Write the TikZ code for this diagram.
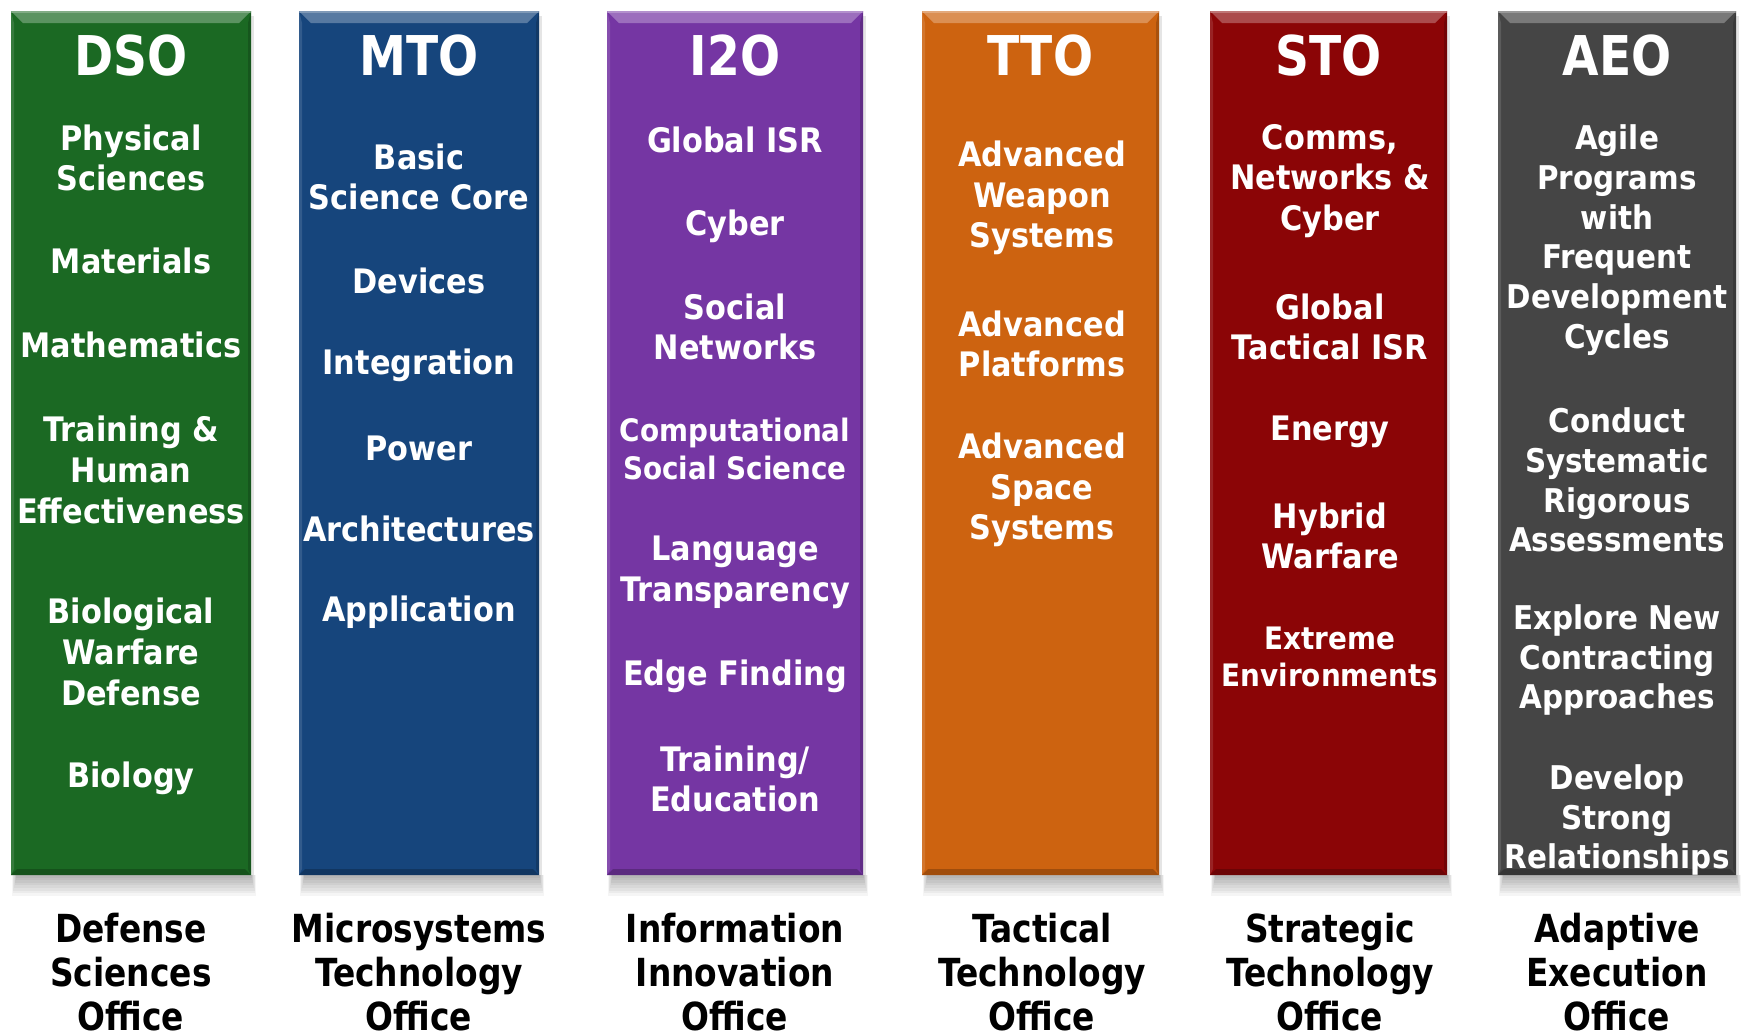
\documentclass[tikz,border=0pt]{standalone}
\usepackage{fontspec}
\setmainfont{DejaVu Sans}
\newfontfamily\headfont[FakeStretch=0.86]{DejaVu Sans}
\newfontfamily\itemfont[FakeStretch=0.90]{DejaVu Sans}
\newfontfamily\capfont[FakeStretch=0.85]{DejaVu Sans}
\usetikzlibrary{positioning,calc}

\definecolor{dsogreen}{RGB}{27,105,35}
\definecolor{mtoblue}{RGB}{22,69,124}
\definecolor{itopurple}{RGB}{117,54,163}
\definecolor{ttoorange}{RGB}{205,99,16}
\definecolor{stored}{RGB}{139,5,6}
\definecolor{aeogray}{RGB}{69,69,69}

\begin{document}
\begin{tikzpicture}[
  x=0.1mm, y=-0.1mm,
  head/.style={text=white, inner sep=0pt, font=\headfont\bfseries\fontsize{15.6}{18}\selectfont},
  item/.style={text=white, align=center, inner sep=0pt, font=\itemfont\bfseries\fontsize{9.6}{11.6}\selectfont},
  small/.style={item, font=\itemfont\bfseries\fontsize{8.8}{10.7}\selectfont},
  aeo/.style={item, font=\itemfont\bfseries\fontsize{9.3}{11.3}\selectfont},
  offname/.style={text=black, align=center, inner sep=0pt, font=\capfont\bfseries\fontsize{11}{12.6}\selectfont},
]
\useasboundingbox[fill=white] (0,0) rectangle (1742,1034);
% #1 node name, #2 left, #3 right, #4 colour, #5 acronym
\newcommand{\officebox}[5]{%
  \foreach \s in {1,...,8}
    \fill[black, opacity=0.04] (#2+6-\s*0.6,875) rectangle (#3+\s*0.6,875+\s*2.6);
  \fill[black, opacity=0.10] (#3,16) rectangle (#3+2.5,875);
  \fill[#4] (#2,11) rectangle (#3,875);
  \fill[#4!72!white] (#2,11) -- (#3,11) -- (#3-12,23) -- (#2+12,23) -- cycle;
  \fill[#4!55!white] (#2,11) rectangle (#3,12.5);
  \fill[#4!88!white] (#2,11) -- (#2+3,23) -- (#2+3,869) -- (#2,875) -- cycle;
  \fill[#4!82!black] (#3,11) -- (#3,875) -- (#3-3,869) -- (#3-3,23) -- cycle;
  \fill[#4!78!black] (#2,875) -- (#3,875) -- (#3-6,869) -- (#2+6,869) -- cycle;
  \node[head] (#1) at ({(#2+#3)/2},56) {#5};}

% ---------------- DSO ----------------
\officebox{dso}{11}{251}{dsogreen}{DSO}
\node[item] (dso-phys) at (131,158) {Physical\\Sciences};
\node[item] (dso-mat)  at (131,261) {Materials};
\node[item] (dso-math) at (131,345) {Mathematics};
\node[item] (dso-hum)  at (131,470) {Training \&\\Human\\Effectiveness};
\node[item] (dso-bwd)  at (131,652) {Biological\\Warfare\\Defense};
\node[item] (dso-bio)  at (131,778) {Biology};
\node[offname] (dso-name) at (131,972) {Defense\\Sciences\\Office};

% ---------------- MTO ----------------
\officebox{mto}{299}{539}{mtoblue}{MTO}
\node[item] (mto-core)  at (419,177) {Basic\\Science Core};
\node[item] (mto-dev)   at (419,281) {Devices};
\node[item] (mto-int)   at (419,365) {Integration};
\node[item] (mto-pow)   at (419,448) {Power};
\node[item] (mto-arch)  at (419,529) {Architectures};
\node[item] (mto-app)   at (419,612) {Application};
\node[offname] (mto-name) at (419,972) {Microsystems\\Technology\\Office};

% ---------------- I2O ----------------
\officebox{ito}{607}{863}{itopurple}{I2O}
\node[item]  (ito-isr)  at (735,140) {Global ISR};
\node[item]  (ito-cyb)  at (735,226) {Cyber};
\node[item]  (ito-soc)  at (735,327) {Social\\Networks};
\node[small] (ito-css)  at (735,449) {Computational\\Social Science};
\node[item]  (ito-lang) at (735,572) {Language\\Transparency};
\node[item]  (ito-edge) at (735,676) {Edge Finding};
\node[item]  (ito-edu)  at (735,779) {Training/\\Education};
\node[offname] (ito-name) at (735,972) {Information\\Innovation\\Office};

% ---------------- TTO ----------------
\officebox{tto}{922}{1159}{ttoorange}{TTO}
\node[item] (tto-weap) at (1042,198) {Advanced\\Weapon\\Systems};
\node[item] (tto-plat) at (1042,344) {Advanced\\Platforms};
\node[item] (tto-spc)  at (1042,490) {Advanced\\Space\\Systems};
\node[offname] (tto-name) at (1042,972) {Tactical\\Technology\\Office};

% ---------------- STO ----------------
\officebox{sto}{1210}{1447}{stored}{STO}
\node[item]  (sto-com) at (1330,181) {Comms,\\Networks \&\\Cyber};
\node[item]  (sto-isr) at (1330,327) {Global\\Tactical ISR};
\node[item]  (sto-eng) at (1330,432) {Energy};
\node[item]  (sto-hyb) at (1330,536) {Hybrid\\Warfare};
\node[small] (sto-env) at (1330,657) {Extreme\\Environments};
\node[offname] (sto-name) at (1330,972) {Strategic\\Technology\\Office};

% ---------------- AEO ----------------
\officebox{aeo}{1498}{1736}{aeogray}{AEO}
\node[aeo] (aeo-agile) at (1617,240) {Agile\\Programs\\with\\Frequent\\Development\\Cycles};
\node[aeo] (aeo-assess) at (1617,480) {Conduct\\Systematic\\Rigorous\\Assessments};
\node[aeo] (aeo-contr) at (1617,660) {Explore New\\Contracting\\Approaches};
\node[aeo] (aeo-rel) at (1617,820) {Develop\\Strong\\Relationships};
\node[offname] (aeo-name) at (1617,972) {Adaptive\\Execution\\Office};
\end{tikzpicture}
\end{document}
